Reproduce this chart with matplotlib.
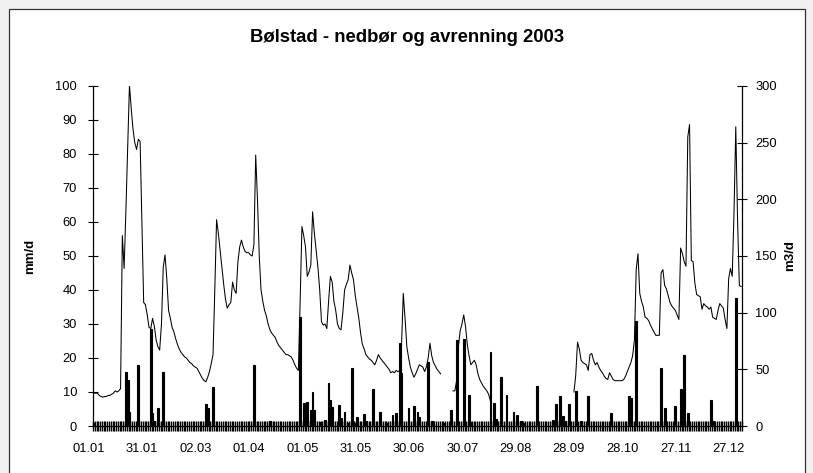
import numpy as np
import matplotlib
matplotlib.use("Agg")
from matplotlib import pyplot as plt
from matplotlib.patches import Rectangle
import matplotlib.transforms as mtransforms

plt.rcParams['font.family'] = ['Liberation Sans', 'DejaVu Sans']

# x tick labels (every 30th day of 2003)
date_labels = ["01.01", "31.01", "02.03", "01.04", "01.05", "31.05", "30.06",
               "30.07", "29.08", "28.09", "28.10", "27.11", "27.12"]

# precipitation (mm/d), only days with rain; day 0 = 01.01
rain_days = [0, 18, 19, 20, 25, 29, 32, 33, 34, 36, 39, 63, 64, 67, 90, 99,
             116, 118, 120, 122, 123, 124, 127, 130, 132, 133, 134, 138, 139,
             141, 143, 145, 147, 148, 152, 153, 155, 157, 161, 165, 168, 170,
             172, 173, 177, 180, 182, 183, 188, 190, 197, 201, 204, 208, 211,
             212, 223, 225, 226, 229, 232, 236, 238, 240, 242, 249, 258, 260,
             262, 264, 265, 267, 271, 274, 278, 291, 301, 302, 305, 319, 321,
             327, 330, 332, 334, 347, 348, 361]
rain_mm = [1.0, 15.9, 13.4, 4.0, 17.8, 1.0, 28.6, 3.7, 1.5, 5.4, 16.0, 6.5,
           5.3, 11.4, 17.8, 1.5, 32.0, 6.7, 7.0, 4.7, 10.0, 4.7, 1.2, 1.8,
           12.7, 7.6, 5.6, 6.2, 2.3, 4.2, 1.0, 17.0, 1.0, 2.6, 3.5, 1.5, 1.2,
           10.9, 4.0, 1.0, 3.2, 3.9, 24.4, 15.5, 5.2, 5.9, 4.2, 2.6, 18.8,
           1.5, 0.8, 4.8, 25.3, 25.7, 9.1, 1.2, 21.8, 6.7, 2.0, 14.4, 9.1,
           4.1, 3.2, 1.5, 1.0, 11.8, 1.8, 6.4, 8.8, 3.0, 1.5, 6.4, 10.4, 1.5,
           8.8, 3.8, 8.8, 8.2, 31.0, 17.0, 5.2, 5.9, 10.8, 20.9, 3.8, 7.6,
           1.5, 37.6]

# runoff (m3/d), three periods with data
runoff1_start = 0
runoff1 = [29, 29, 29, 27, 26, 25.5, 26, 26, 27, 27, 28, 29, 31, 30, 31, 33,
           168, 139, 190, 245, 301, 280, 262, 250, 244, 253, 251, 180, 109,
           107, 98, 87, 86, 95, 88, 76, 70, 67, 90, 140, 151, 130, 102, 95,
           87, 83, 77, 72, 68, 65, 63, 61, 60, 58, 56, 55, 53, 52, 51, 48, 45,
           42, 40, 39, 43, 48, 55, 63, 120, 182, 170, 155, 140, 125, 112, 104,
           107, 109, 127, 120, 117, 145, 158, 164, 158, 154, 153, 153, 151,
           150, 160, 239, 200, 150, 120, 110, 102, 97, 90, 85, 82, 80, 78, 74,
           71, 69, 67, 65, 63, 63, 62, 61, 58, 54, 51, 49, 110, 176, 168, 158,
           132, 136, 142, 189, 170, 155, 140, 120, 92, 89, 90, 86, 110, 132,
           127, 110, 102, 90, 86, 85, 100, 120, 125, 129, 142, 135, 129, 115,
           105, 95, 82, 72, 68, 63, 61, 59, 58, 56, 54, 58, 63, 60, 58, 56, 54,
           52, 50, 47, 48, 47, 49, 48, 49, 70, 117, 95, 70, 60, 52, 47, 43, 46,
           50, 54, 53, 52, 48, 52, 60, 73, 62, 56, 53, 50, 48, 46]
runoff2_start = 202
runoff2 = [31, 31, 40, 70, 84, 90, 98, 88, 72, 62, 54, 56, 58, 54, 46, 41, 38,
           35, 33, 31, 28, 22]
runoff3_start = 270
runoff3 = [30, 45, 74, 68, 58, 56, 55, 54, 49, 63, 64, 58, 54, 56, 52, 49, 47,
           44, 42, 41, 47, 44, 41, 40, 40, 40, 40, 40, 41, 44, 48, 52, 56, 62,
           76, 138, 152, 117, 110, 105, 96, 95, 93, 89, 86, 83, 80, 80, 80,
           135, 138, 124, 121, 115, 109, 106, 104, 102, 98, 94, 157, 152, 145,
           141, 255, 266, 146, 145, 126, 116, 115, 114, 103, 108, 106, 105,
           103, 105, 96, 95, 94, 102, 108, 106, 104, 94, 86, 130, 139, 132,
           188, 264, 182, 124, 123]

W, H = 813, 473
fig = plt.figure(figsize=(W / 100, H / 100), dpi=100, facecolor='#f0f0f0')

# white chart area with border
fig.patches.append(Rectangle((9 / W, -0.05), (805 - 9) / W, 1.05 - 9 / H,
                             transform=fig.transFigure, facecolor='white',
                             edgecolor='#333333', linewidth=0.9, zorder=-10))

ax = fig.add_axes([93 / W, 1 - 426 / H, (742 - 93) / W, (426 - 86) / H])
ax.set_facecolor('none')
ax.bar(rain_days, rain_mm, width=1.0, color='black', edgecolor='black',
       linewidth=0.8)
ax.set_xlim(-0.5, 364.5)
ax.set_ylim(0, 100)
ax.set_yticks(range(0, 101, 10))
for s in ['top', 'right']:
    ax.spines[s].set_visible(False)
for s in ['left', 'bottom']:
    ax.spines[s].set_linewidth(0.9)

ax.set_xticks(range(0, 365, 30))
ax.set_xticklabels(date_labels)
ax.set_xticks(np.arange(-0.5, 365, 1), minor=True)
ax.tick_params(axis='x', which='major', length=0, pad=12, labelsize=9.3)
ax.tick_params(axis='x', which='minor', direction='inout', length=7.2,
               width=1.0)
ax.tick_params(axis='y', direction='inout', length=7, width=0.8,
               labelsize=9.3, pad=8)
offset = mtransforms.ScaledTranslation(-5 / 100, 0, fig.dpi_scale_trans)
for lab in ax.get_xticklabels():
    lab.set_transform(lab.get_transform() + offset)

ax2 = ax.twinx()
for start, vals in [(runoff1_start, runoff1), (runoff2_start, runoff2),
                    (runoff3_start, runoff3)]:
    ax2.plot(np.arange(start, start + len(vals)), vals, color='black',
             linewidth=0.75)
ax2.set_ylim(0, 300)
ax2.set_yticks(range(0, 301, 50))
for s in ['top', 'left', 'bottom']:
    ax2.spines[s].set_visible(False)
ax2.spines['right'].set_linewidth(0.9)
ax2.tick_params(axis='y', direction='inout', length=7, width=0.8,
                labelsize=9.3, pad=6)

fig.text(407 / W, 1 - 37 / H, "Bølstad - nedbør og avrenning 2003",
         ha='center', va='center', fontsize=13.3, fontweight='bold')
fig.text(30 / W, 1 - 256 / H, "mm/d", rotation=90, ha='center', va='center',
         fontsize=9.5, fontweight='bold')
fig.text(790 / W, 1 - 256 / H, "m3/d", rotation=90, ha='center', va='center',
         fontsize=9.5, fontweight='bold')

fig.savefig("out.png", dpi=100, facecolor=fig.get_facecolor())
